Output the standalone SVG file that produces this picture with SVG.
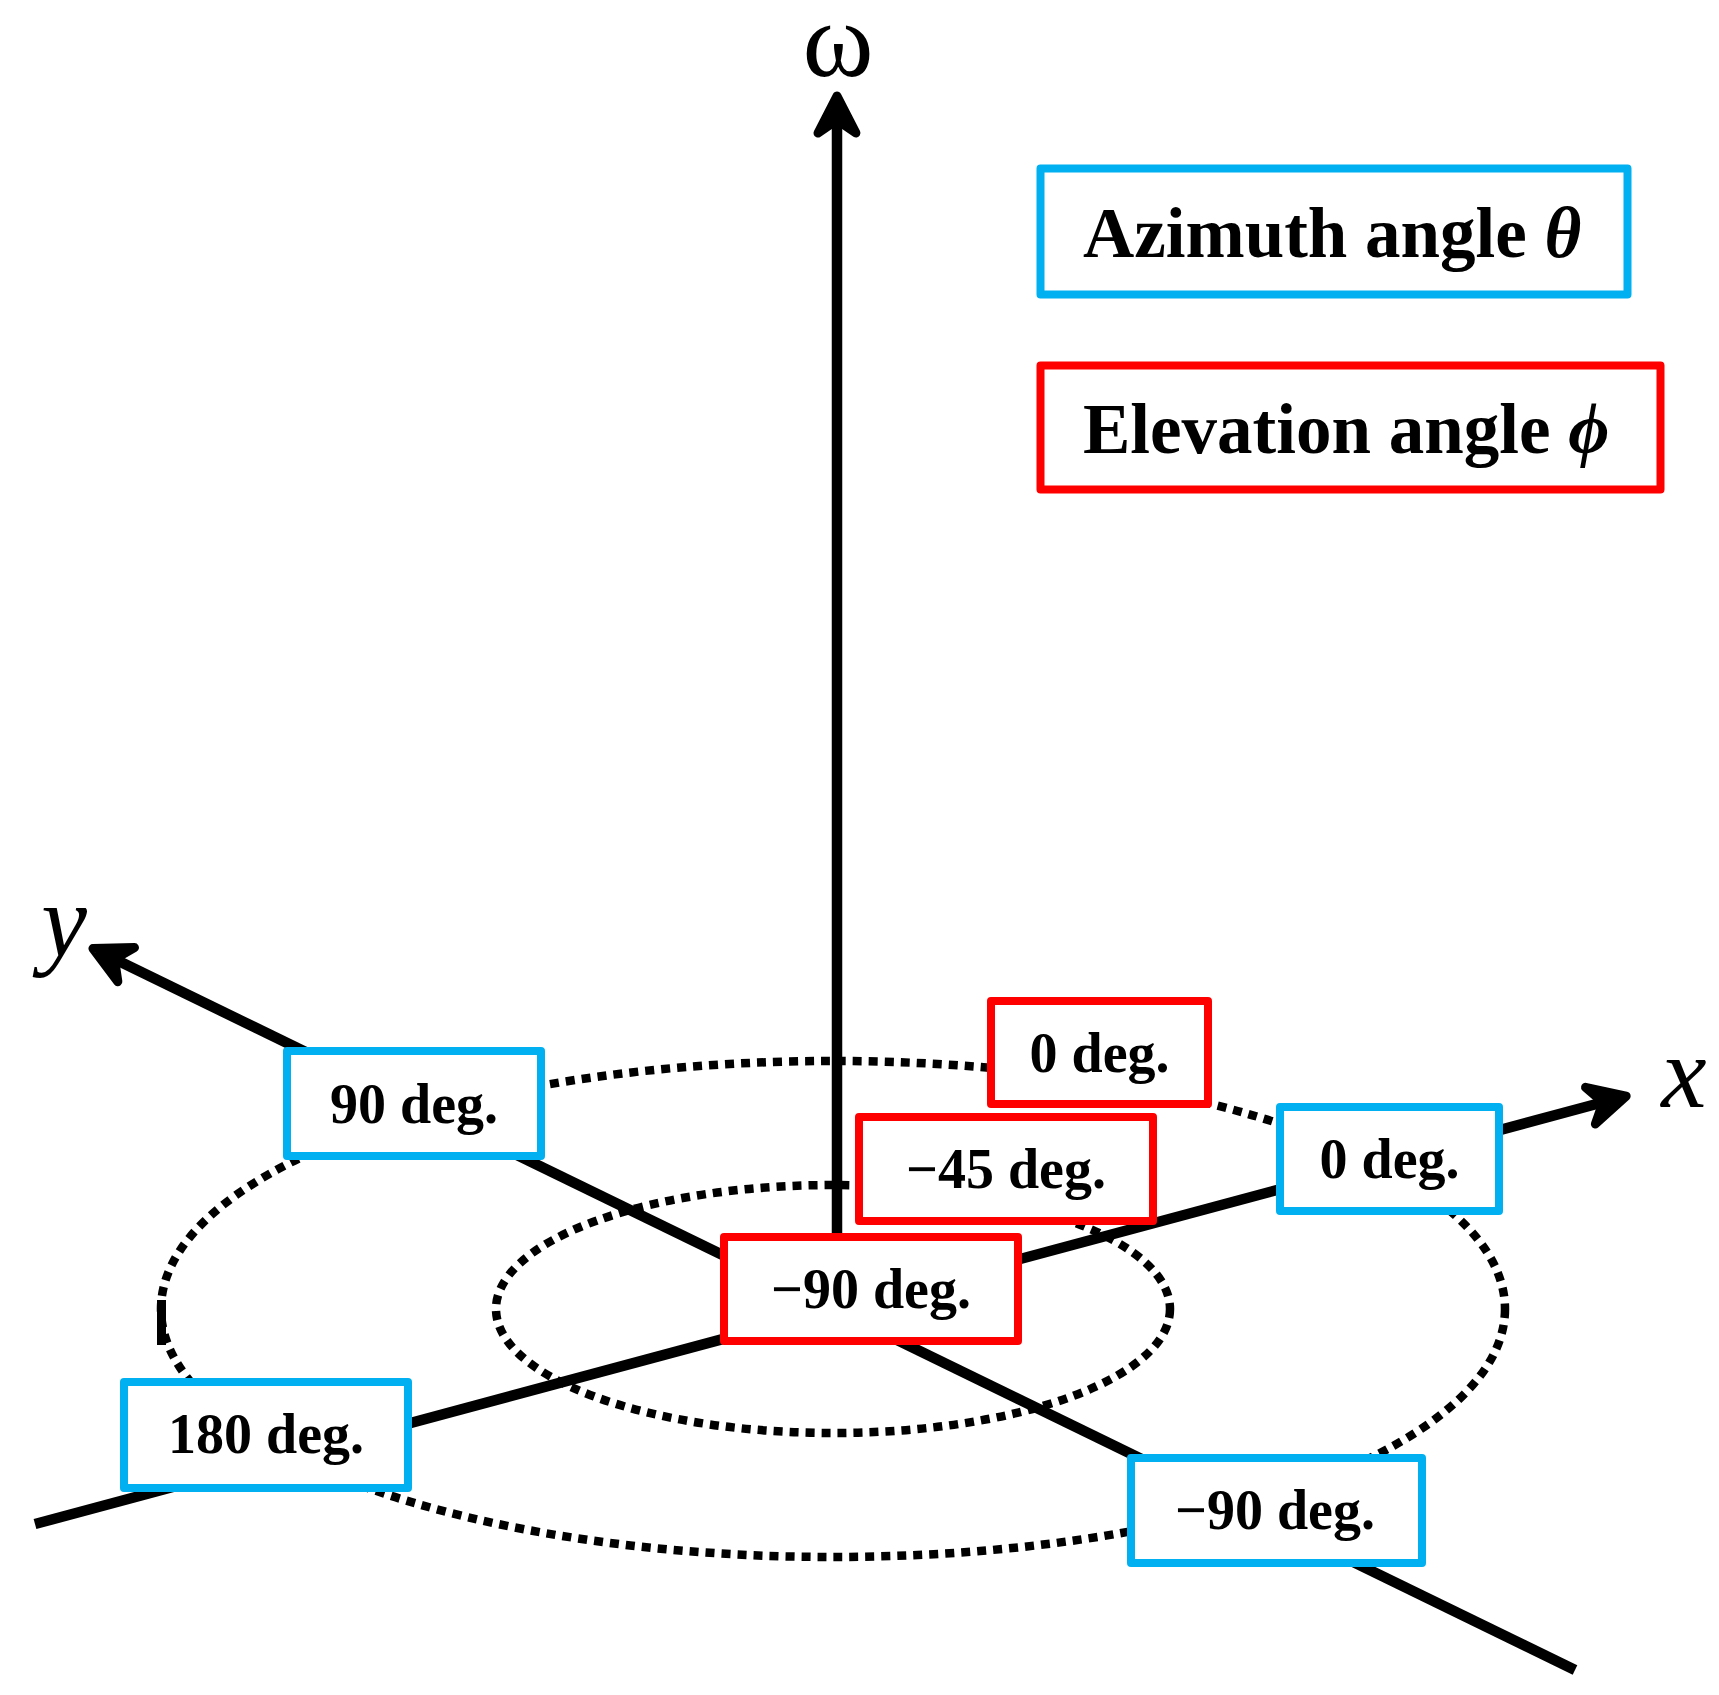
<svg xmlns="http://www.w3.org/2000/svg" width="1719" height="1695" viewBox="0 0 1719 1695">
  <style>
    .axis { stroke: #000; stroke-width: 10.5; fill: none; marker-end: url(#arr); }
    .dot { stroke: #000; stroke-width: 8.5; fill: none; stroke-dasharray: 9 7; }
    .box { fill: #fff; stroke-width: 8; stroke-linejoin: round; }
    .blue { stroke: #00B0F0; }
    .red { stroke: #FF0000; }
    .lbl { font-family: "Liberation Serif", "Times New Roman", serif; font-weight: bold; font-size: 56px; fill: #000; text-anchor: middle; }
    .leg { font-family: "Liberation Serif", "Times New Roman", serif; font-weight: bold; font-size: 71px; fill: #000; }
    .ax { font-family: "Liberation Serif", "Times New Roman", serif; fill: #000; text-anchor: middle; }
    .gi { font-style: italic; font-family: "Liberation Serif", "DejaVu Serif", serif; }
  </style>
  <defs>
    <marker id="arr" markerUnits="userSpaceOnUse" orient="auto" overflow="visible" markerWidth="1" markerHeight="1" refX="0" refY="0">
      <path d="M24,0 L-13,-19 L0,0 L-13,19 Z" fill="#000" stroke="#000" stroke-width="9" stroke-linejoin="round"/>
    </marker>
  </defs>
  <rect width="1719" height="1695" fill="#fff"/>

  <g id="connectors">
    <line id="omega-axis" class="axis" x1="837" y1="1240" x2="837" y2="120"/>
    <line id="x-axis" class="axis" x1="35" y1="1524" x2="1603" y2="1102.3"/>
    <line id="y-axis" class="axis" x1="1575" y1="1670" x2="114.5" y2="959"/>
    <ellipse id="outer-ring" class="dot" cx="833" cy="1309" rx="672" ry="248"/>
    <ellipse id="inner-ring" class="dot" cx="833" cy="1309" rx="337" ry="124"/>
    <rect x="157" y="1300" width="9" height="45" fill="#000"/>
  </g>

  <g id="axis-labels">
    <text class="ax" x="838" y="76" font-size="108">ω</text>
    <text class="ax" x="64" y="956" font-size="103" font-style="italic">y</text>
    <text class="ax" x="1684" y="1107" font-size="102" font-style="italic">x</text>
  </g>

  <g id="legend-azimuth">
    <rect class="box blue" x="1040.5" y="168.5" width="587" height="126" stroke-width="7"/>
    <text class="leg" x="1083" y="257">Azimuth angle <tspan class="gi">θ</tspan></text>
  </g>
  <g id="legend-elevation">
    <rect class="box red" x="1040.5" y="365.5" width="620" height="124" stroke-width="7"/>
    <text class="leg" x="1083" y="453">Elevation angle <tspan class="gi">ϕ</tspan></text>
  </g>

  <g id="az-90">
    <rect class="box blue" x="287" y="1051" width="254" height="105"/>
    <text class="lbl" x="414" y="1123">90 deg.</text>
  </g>
  <g id="el-0">
    <rect class="box red" x="991" y="1001" width="217" height="103"/>
    <text class="lbl" x="1099.5" y="1072">0 deg.</text>
  </g>
  <g id="el-m45">
    <rect class="box red" x="859" y="1117" width="294" height="104"/>
    <text class="lbl" x="1006" y="1188">−45 deg.</text>
  </g>
  <g id="az-0">
    <rect class="box blue" x="1280" y="1107" width="219" height="104"/>
    <text class="lbl" x="1389.5" y="1178">0 deg.</text>
  </g>
  <g id="el-m90">
    <rect class="box red" x="724" y="1237" width="294" height="104"/>
    <text class="lbl" x="871" y="1308">−90 deg.</text>
  </g>
  <g id="az-180">
    <rect class="box blue" x="124" y="1382" width="284" height="106"/>
    <text class="lbl" x="266" y="1453">180 deg.</text>
  </g>
  <g id="az-m90">
    <rect class="box blue" x="1131" y="1458" width="291" height="105"/>
    <text class="lbl" x="1275" y="1529">−90 deg.</text>
  </g>
</svg>
